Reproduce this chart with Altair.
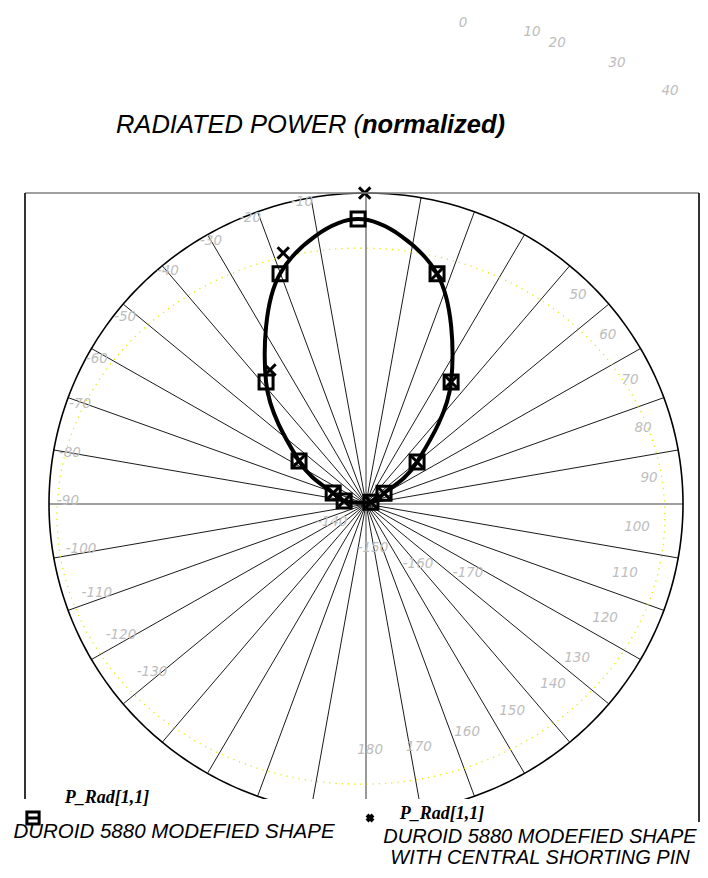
import numpy as np
import pandas as pd
import altair as alt

# ---------------- data ----------------
# Series 1: DUROID 5880 MODEFIED SHAPE  (angle in degrees, normalized radiated power)
s1_angle = [81.6, 67.0, 54.0, 36.8, 18.6, 0.0, -18.4, -36.5, -53.4, -66.0, -77.7]
s1_power = [0.041, 0.089, 0.230, 0.490, 0.781, 0.916, 0.780, 0.488, 0.232, 0.086, 0.045]

# Series 2: DUROID 5880 MODEFIED SHAPE WITH CENTRAL SHORTING PIN
s2_angle = [1.2, -16.3, -32.8, -53.4, -66.0, -77.7, 81.6, 67.0, 54.0, 36.8, 18.6]
s2_power = [1.000, 0.841, 0.513, 0.232, 0.086, 0.045, 0.041, 0.089, 0.230, 0.490, 0.781]

# angular grid (degrees)
spoke_angles = list(range(0, 360, 10))

# grey angle labels (text, position in units of the outer radius)
label_text = ["0", "10", "20", "30", "40", "50", "60", "70", "80", "90", "100",
              "110", "120", "130", "140", "150", "160", "170", "180",
              "-10", "-20", "-30", "-40", "-50", "-60", "-70", "-80", "-90",
              "-100", "-110", "-120", "-130", "-140", "-150", "-160", "-170"]
label_u = [0.306, 0.524, 0.603, 0.792, 0.959, 0.669, 0.763, 0.833, 0.874, 0.893,
           0.855, 0.817, 0.754, 0.666, 0.590, 0.461, 0.319, 0.167, 0.013,
           -0.202, -0.366, -0.489, -0.625, -0.760, -0.849, -0.902, -0.934, -0.940,
           -0.899, -0.849, -0.773, -0.675, -0.107, 0.022, 0.164, 0.322]
label_v = [1.547, 1.518, 1.482, 1.418, 1.328, 0.672, 0.543, 0.399, 0.244, 0.084,
           -0.074, -0.222, -0.367, -0.495, -0.579, -0.666, -0.733, -0.781, -0.791,
           0.971, 0.920, 0.846, 0.749, 0.601, 0.466, 0.322, 0.164, 0.010,
           -0.145, -0.286, -0.421, -0.540, -0.058, -0.141, -0.193, -0.222]

title_regular = "RADIATED POWER ("
title_bold = "normalized)"
legend_name = "P_Rad[1,1]"
legend1 = "DUROID 5880 MODEFIED SHAPE"
legend2 = ["DUROID 5880 MODEFIED SHAPE", "WITH CENTRAL SHORTING PIN"]

# ---------------- layout ----------------
CX, CY, RX, RY = 366.0, 504.0, 317.0, 311.0     # page px of pole, radii
M = 8
W, H = 692, 791
PAD_BOTTOM = 71
PAT_DX = -0.025                                   # pattern pole offset

xdom = [(M - CX) / RX, (M + W - CX) / RX]
ydom = [(CY - (M + H)) / RY, (CY - M) / RY]
xs = alt.Scale(domain=xdom, nice=False, zero=False)
ys = alt.Scale(domain=ydom, nice=False, zero=False)


def px(p):
    return p - M


def polar(angle, r, dx=0.0):
    a = np.radians(np.asarray(angle, dtype=float))
    r = np.asarray(r, dtype=float)
    return r * np.sin(a) + dx, r * np.cos(a)


# spokes
sp = [a for a in spoke_angles if a % 90 != 0]
sx, sy = polar(sp, np.ones(len(sp)))
spokes = pd.DataFrame({"x": 0.0, "y": 0.0, "x2": sx, "y2": sy})

ax_df = pd.DataFrame({"x": [0.0, -1.0], "y": [1.0, 0.0],
                      "x2": [0.0, 1.0], "y2": [-1.0, 0.0]})

t = np.arange(0, 361, 1.0)
cx_, cy_ = polar(t, np.ones(len(t)))
circle = pd.DataFrame({"x": cx_, "y": cy_, "i": np.arange(len(t))})

ell = pd.DataFrame({"x": -0.016 + 0.959 * np.sin(np.radians(t)),
                    "y": -0.039 + 0.862 * np.cos(np.radians(t)),
                    "i": np.arange(len(t))})

p1x, p1y = polar(s1_angle, s1_power, PAT_DX)
s1 = pd.DataFrame({"x": p1x, "y": p1y, "i": np.arange(len(s1_angle))})
p2x, p2y = polar(s2_angle, s2_power, PAT_DX)
s2 = pd.DataFrame({"x": p2x, "y": p2y})

labels = pd.DataFrame({"x": label_u, "y": label_v, "t": label_text})

X = alt.X("x:Q", scale=xs, axis=None)
Y = alt.Y("y:Q", scale=ys, axis=None)

XPATH = "M-1,-1L1,1M-1,1L1,-1"

layers = []
layers.append(alt.Chart(spokes).mark_rule(color="black", strokeWidth=0.9, clip=True)
              .encode(x=X, y=Y, x2="x2:Q", y2="y2:Q"))
layers.append(alt.Chart(ax_df).mark_rule(color="#808080", strokeWidth=1.6, clip=True)
              .encode(x=X, y=Y, x2="x2:Q", y2="y2:Q"))
layers.append(alt.Chart(circle).mark_line(color="black", strokeWidth=1.6, clip=True)
              .encode(x=X, y=Y, order="i:Q"))
layers.append(alt.Chart(ell).mark_line(color="#e8e800", strokeWidth=1.3,
                                       strokeDash=[1.2, 5], clip=True)
              .encode(x=X, y=Y, order="i:Q"))
layers.append(alt.Chart(labels).mark_text(font="DejaVu Sans", fontStyle="italic",
                                          fontSize=13.5, color="#bdbdbd",
                                          align="center", baseline="middle")
              .encode(x=X, y=Y, text="t:N"))
layers.append(alt.Chart(s1).mark_line(color="black", strokeWidth=4,
                                      interpolate="cardinal-closed")
              .encode(x=X, y=Y, order="i:Q"))
layers.append(alt.Chart(s1).mark_point(shape="square", size=196, filled=False,
                                       strokeWidth=3, color="black", opacity=1)
              .encode(x=X, y=Y))
layers.append(alt.Chart(s2).mark_point(shape=XPATH, size=130, filled=False,
                                       strokeWidth=3, color="black", opacity=1)
              .encode(x=X, y=Y))

# frame
frame = [  # x1, y1, x2, y2, colour (page px)
    (25, 193, 699, 193, "#808080"),
    (25, 193, 25, 799, "black"),
    (699, 193, 699, 822, "black"),
]
for x1, y1, x2, y2, c in frame:
    layers.append(alt.Chart(pd.DataFrame({"a": [0]})).mark_rule(color=c, strokeWidth=1.6)
                  .encode(x=alt.value(px(x1)), y=alt.value(px(y1)),
                          x2=alt.value(px(x2)), y2=alt.value(px(y2))))


def txt(text, x, y, **kw):
    return (alt.Chart(pd.DataFrame({"t": [text]}))
            .mark_text(baseline="middle", **kw)
            .encode(text="t:N", x=alt.value(px(x)), y=alt.value(px(y))))


TFONT = "Liberation Sans"
layers.append(txt(title_regular, 362, 125, font=TFONT, fontStyle="italic",
                  fontSize=25.5, align="right", color="black"))
layers.append(txt(title_bold, 362, 125, font=TFONT, fontStyle="italic", fontWeight="bold",
                  fontSize=25.5, align="left", color="black"))

# legend
layers.append(txt(legend_name, 107, 798, font="Liberation Serif", fontStyle="italic",
                  fontWeight="bold", fontSize=18, align="center", color="black"))
layers.append(txt(legend_name, 442, 814, font="Liberation Serif", fontStyle="italic",
                  fontWeight="bold", fontSize=18, align="center", color="black"))
layers.append(txt(legend1, 174, 832, font=TFONT, fontStyle="italic", fontSize=20.5,
                  align="center", color="black"))
layers.append(txt(legend2[0], 540, 837, font=TFONT, fontStyle="italic", fontSize=20,
                  align="center", color="black"))
layers.append(txt(legend2[1], 540, 858, font=TFONT, fontStyle="italic", fontSize=20,
                  align="center", color="black"))

mk = pd.DataFrame({"a": [0]})
layers.append(alt.Chart(mk).mark_point(shape="square", size=150, filled=False,
                                       strokeWidth=3, color="black", opacity=1)
              .encode(x=alt.value(px(33)), y=alt.value(px(818))))
layers.append(alt.Chart(mk).mark_rule(color="black", strokeWidth=3)
              .encode(x=alt.value(px(26)), x2=alt.value(px(40)),
                      y=alt.value(px(818))))
layers.append(alt.Chart(mk).mark_point(shape=XPATH, size=36, filled=False,
                                       strokeWidth=4, color="black", opacity=1)
              .encode(x=alt.value(px(370)), y=alt.value(px(818))))

chart = alt.layer(*layers).properties(
    width=W, height=H,
    autosize=alt.AutoSizeParams(type="none"),
    padding={"left": 0, "top": 0, "right": 0, "bottom": PAD_BOTTOM},
).configure_view(stroke=None)

chart.save("out.html", embed_options={"renderer": "svg", "actions": False})
